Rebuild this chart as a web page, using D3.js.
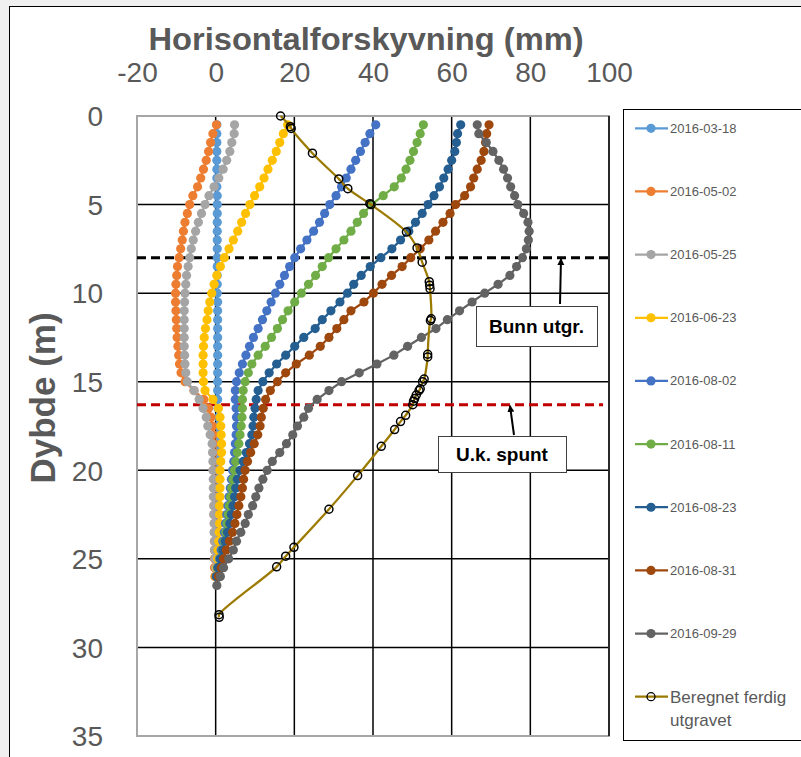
<!DOCTYPE html>
<html>
<head>
<meta charset="utf-8">
<script src="https://cdn.jsdelivr.net/npm/d3@7"></script>
<style>
  html, body { margin: 0; padding: 0; background: #f0f0f0; }
  svg { display: block; font-family: "Liberation Sans", Arial, sans-serif; }
</style>
</head>
<body>
<svg id="chart" width="801" height="757"></svg>
<script>
// dybde (m) for hvert målepunkt
const depths = [0.5, 1, 1.5, 2, 2.5, 3, 3.5, 4, 4.5, 5, 5.5, 6, 6.5, 7, 7.5, 8,
  8.5, 9, 9.5, 10, 10.5, 11, 11.5, 12, 12.5, 13, 13.5, 14, 14.5, 15, 15.5, 16,
  16.5, 17, 17.5, 18, 18.5, 19, 19.5, 20, 20.5, 21, 21.5, 22, 22.5, 23, 23.5, 24,
  24.5, 25, 25.5, 26, 26.5];

const seriesNames = ["2016-03-18", "2016-05-02", "2016-05-25", "2016-06-23", "2016-08-02",
  "2016-08-11", "2016-08-23", "2016-08-31", "2016-09-29"];
const seriesColors = ["#5B9BD5", "#ED7D31", "#A5A5A5", "#FFC000", "#4472C4",
  "#70AD47", "#255E91", "#9E480E", "#636363"];

// horisontalforskyvning (mm)
const s0318 = [0.3, 0.3, 0.3, 0.3, 0.3, 0.3, 0.3, 0.3, 0.4, 0.4, 0.4, 0.4, 0.4, 0.4, 0.4, 0.4,
  0.4, 0.4, 0.4, 0.4, 0.5, 0.5, 0.5, 0.5, 0.5, 0.5, 0.5, 0.5, 0.5, 0.5, 0.5, 0.5,
  0.6, 0.7, 0.7, 0.8, 0.8, 0.8, 0.8, 0.8, 0.8, 0.7, 0.7, 0.7, 0.6, 0.6, 0.5, 0.5,
  0.4, 0.3, 0.2, 0.1];
const s0502 = [0.2, -0.7, -1.3, -1.8, -2.4, -3.1, -3.8, -4.6, -5.8, -6.6, -7.2, -7.8, -8.2, -8.5, -8.9, -9.3,
  -9.7, -9.9, -10.1, -10.2, -10.2, -10.1, -10.0, -9.9, -9.8, -9.6, -9.4, -9.2, -8.8, -7.8, -5.5, -3.0,
  -1.8, -1.2, -0.8, -0.6, -0.5, -0.5, -0.5, -0.5, -0.4, -0.4, -0.4, -0.4, -0.4, -0.3, -0.3, -0.3,
  -0.3, -0.3, -0.3, -0.2];
const s0525 = [4.8, 4.7, 4.1, 3.6, 2.8, 1.9, 0.8, -0.4, -1.7, -2.7, -3.6, -4.4, -5.1, -5.7, -6.2, -6.6,
  -7.0, -7.4, -7.6, -7.8, -7.9, -8.0, -8.0, -8.0, -8.0, -8.0, -7.9, -7.8, -7.6, -7.2, -5.5, -4.2,
  -3.2, -2.4, -2.0, -1.4, -0.9, -0.8, -0.7, -0.7, -0.6, -0.6, -0.6, -0.5, -0.5, -0.4, -0.4, -0.3,
  -0.3, -0.2, 0.0];
const s0623 = [18.3, 17.2, 16.3, 15.4, 14.4, 13.3, 12.3, 11.2, 9.9, 8.7, 7.6, 6.6, 5.6, 4.5, 3.4, 2.2,
  1.2, 0.3, -0.4, -1.0, -1.5, -1.9, -2.2, -2.6, -2.9, -3.1, -3.2, -3.2, -3.2, -3.1, -2.7, -0.7,
  0.7, 1.1, 1.3, 1.4, 1.5, 1.5, 1.3, 1.1, 1.1, 1.1, 1.1, 1.0, 1.0, 1.0, 0.9, 0.8,
  0.6, 0.5, 0.3, 0.1];
const s0802 = [40.7, 39.2, 38.0, 36.8, 35.6, 34.4, 33.2, 32.0, 30.6, 29.0, 27.7, 26.4, 24.9, 23.2, 21.6, 20.1,
  18.8, 17.5, 16.3, 15.2, 14.1, 13.0, 11.9, 10.8, 9.6, 8.6, 7.7, 6.8, 6.0, 5.3, 5.0, 5.0,
  5.2, 5.3, 5.3, 5.2, 5.0, 4.8, 4.6, 4.3, 4.0, 3.7, 3.4, 3.1, 2.8, 2.5, 2.2, 1.8,
  1.4, 1.0, 0.5, 0.2];
const s0811 = [52.8, 52.0, 51.2, 50.3, 49.4, 48.4, 47.2, 45.4, 42.6, 39.6, 37.6, 36.0, 34.4, 32.6, 30.6, 28.7,
  27.1, 25.4, 23.6, 21.8, 20.1, 18.4, 17.0, 15.7, 14.2, 12.6, 10.8, 9.2, 8.3, 7.5, 7.0, 6.8,
  6.8, 6.7, 6.5, 6.2, 5.9, 5.5, 5.1, 4.8, 4.4, 4.1, 3.8, 3.5, 3.2, 2.9, 2.6, 2.2,
  1.7, 1.2, 0.6, 0.2];
const s0823 = [62.3, 61.5, 61.2, 60.8, 60.0, 59.1, 58.0, 56.9, 55.5, 54.0, 52.5, 50.8, 49.1, 47.0, 44.8, 42.0,
  39.3, 37.0, 35.1, 33.5, 31.6, 29.3, 27.1, 25.3, 22.4, 20.1, 17.8, 15.5, 13.6, 12.0, 10.8, 10.3,
  10.0, 9.7, 9.5, 9.2, 8.6, 7.8, 7.0, 6.2, 5.5, 5.1, 4.8, 4.4, 4.0, 3.6, 3.0, 2.4,
  1.8, 1.2, 0.6, 0.2];
const s0831 = [69.5, 68.9, 68.6, 68.2, 67.5, 66.5, 65.6, 64.8, 63.3, 61.0, 59.6, 57.8, 55.9, 54.2, 52.0, 49.6,
  47.4, 44.7, 42.3, 40.1, 37.7, 34.4, 32.6, 30.8, 28.8, 26.6, 23.8, 20.5, 17.8, 15.7, 13.9, 12.7,
  12.1, 11.6, 11.3, 10.7, 9.8, 8.9, 8.1, 7.5, 7.1, 6.8, 6.4, 5.9, 5.4, 4.9, 4.3, 3.5,
  2.7, 2.0, 1.4, 0.7];
const s0929 = [66.5, 66.9, 68.8, 70.5, 72.0, 73.2, 74.2, 75.0, 76.0, 76.8, 78.3, 79.4, 79.7, 79.5, 79.0, 78.0,
  76.5, 74.8, 71.8, 68.4, 65.2, 62.0, 58.9, 56.0, 52.3, 48.8, 45.3, 41.0, 36.5, 32.0, 28.8, 25.8,
  23.6, 22.4, 20.8, 19.6, 18.0, 16.3, 14.4, 13.1, 12.0, 11.0, 10.2, 9.4, 8.3, 7.5, 6.4, 5.3,
  4.5, 3.3, 2.0, 1.2, 0.3];
const seriesValues = [s0318, s0502, s0525, s0623, s0802, s0811, s0823, s0831, s0929];

// beregnet ferdig utgravet
const berDepth = [0, 0.6, 0.7, 2.1, 3.55, 4.1, 4.95, 5.0, 6.55, 7.45, 8.25, 9.35, 9.55, 9.75,
  11.45, 11.55, 13.45, 13.6, 14.85, 15.0, 15.4, 15.5, 15.75, 15.95, 16.1, 16.3, 16.9, 17.25,
  17.7, 18.65, 20.3, 22.2, 24.35, 24.85, 25.45, 28.15, 28.3];
const berMm = [16.5, 19.0, 19.2, 24.6, 31.3, 33.6, 39.2, 39.5, 48.5, 51.2, 52.5, 54.3, 54.4, 54.5,
  54.8, 54.6, 53.9, 53.9, 53.0, 52.6, 52.0, 51.7, 51.0, 50.6, 50.3, 50.1, 48.3, 47.0,
  45.5, 42.1, 36.1, 28.8, 19.9, 17.8, 15.5, 0.85, 0.9];

// referanselinjer (dybde i m)
const levelNames = ["Bunn utgr.", "U.k. spunt"];
const levelDepths = [8, 16.3];
const levelColors = ["#000000", "#C00000"];

const xTicks = [-20, 0, 20, 40, 60, 80, 100];
const yTicks = [0, 5, 10, 15, 20, 25, 30, 35];

const svg = d3.select("#chart");
const x = d3.scaleLinear().domain([-20, 100]).range([137, 609]);
const y = d3.scaleLinear().domain([0, 35]).range([116, 736]);
const grey = "#595959";

// hvit bakgrunn med ramme
svg.append("rect").attr("x", 9.5).attr("y", 6.5).attr("width", 820).attr("height", 780)
  .attr("fill", "#fff").attr("stroke", "#000").attr("stroke-width", 1);

svg.append("defs").append("marker")
  .attr("id", "arrow").attr("viewBox", "0 0 10 10")
  .attr("refX", 9).attr("refY", 5)
  .attr("markerWidth", 7).attr("markerHeight", 8)
  .attr("markerUnits", "userSpaceOnUse")
  .attr("orient", "auto")
  .append("path").attr("d", "M0,0 L10,5 L0,10 z").attr("fill", "#000");

// rutenett
const grid = svg.append("g");
grid.selectAll(".vx").data(xTicks.slice(1, -1)).join("line")
  .attr("x1", d => x(d)).attr("x2", d => x(d))
  .attr("y1", y(0)).attr("y2", y(35))
  .attr("stroke", "#000").attr("stroke-width", 1.5);
grid.selectAll(".hy").data(yTicks.slice(1, -1)).join("line")
  .attr("x1", x(-20)).attr("x2", x(100))
  .attr("y1", d => y(d)).attr("y2", d => y(d))
  .attr("stroke", "#000").attr("stroke-width", 1.5);
// ramme rundt plottet
grid.append("rect").attr("x", x(-20)).attr("y", y(0))
  .attr("width", x(100) - x(-20)).attr("height", y(35) - y(0))
  .attr("fill", "none").attr("stroke", "#a6a6a6").attr("stroke-width", 2);
grid.append("line").attr("x1", x(100)).attr("x2", x(100)).attr("y1", y(0)).attr("y2", y(35))
  .attr("stroke", "#000").attr("stroke-width", 1.5);

// akser
const xAxis = svg.append("g").attr("transform", "translate(0,82)")
  .call(d3.axisTop(x).tickValues(xTicks).tickSize(0).tickPadding(0).tickFormat(d => String(d)));
xAxis.select(".domain").remove();
xAxis.selectAll("text").attr("font-size", 28).attr("fill", grey).attr("font-family", null);

const yAxis = svg.append("g").attr("transform", "translate(103,0)")
  .call(d3.axisLeft(y).tickValues(yTicks).tickSize(0).tickPadding(0).tickFormat(d => String(d)));
yAxis.select(".domain").remove();
yAxis.selectAll("text").attr("font-size", 28).attr("fill", grey).attr("font-family", null)
  .attr("dy", "0.35em");

svg.append("text").attr("x", 366).attr("y", 50).attr("text-anchor", "middle")
  .attr("font-size", 32).attr("font-weight", "bold").attr("fill", grey)
  .attr("textLength", 435).attr("lengthAdjust", "spacingAndGlyphs")
  .text("Horisontalforskyvning (mm)");
svg.append("text").attr("transform", "translate(55,398) rotate(-90)").attr("text-anchor", "middle")
  .attr("font-size", 35).attr("font-weight", "bold").attr("fill", grey)
  .text("Dybde (m)");

// referanselinjer
svg.selectAll(".level").data(levelDepths).join("line")
  .attr("x1", x(-20)).attr("x2", (d, i) => i === 0 ? x(100) : x(98.5))
  .attr("y1", d => y(d)).attr("y2", d => y(d))
  .attr("stroke", (d, i) => levelColors[i]).attr("stroke-width", 3)
  .attr("stroke-dasharray", "9,5");

// måleserier
const line = d3.line().x(d => x(d[0])).y(d => y(d[1]));
seriesValues.forEach((vals, i) => {
  const pts = vals.map((v, j) => [v, depths[j]]);
  const g = svg.append("g");
  g.append("path").attr("d", line(pts)).attr("fill", "none")
    .attr("stroke", seriesColors[i]).attr("stroke-width", 2.25);
  g.selectAll("circle").data(pts).join("circle")
    .attr("cx", d => x(d[0])).attr("cy", d => y(d[1])).attr("r", 4.6)
    .attr("fill", seriesColors[i]);
});

// beregnet
const berPts = berMm.map((v, j) => [v, berDepth[j]]);
const berColor = "#9C7A00";
svg.append("path").attr("d", line.curve(d3.curveCatmullRom)(berPts))
  .attr("fill", "none").attr("stroke", berColor).attr("stroke-width", 2.25);
svg.append("g").selectAll("circle").data(berPts).join("circle")
  .attr("cx", d => x(d[0])).attr("cy", d => y(d[1])).attr("r", 4)
  .attr("fill", "none").attr("stroke", "#000").attr("stroke-width", 1.5);

// merknader
const notes = [
  { box: [476, 306, 121, 40], arrow: [560, 304, 561, y(levelDepths[0]) + 1] },
  { box: [438, 436, 128, 36], arrow: [514, 435, 510, y(levelDepths[1]) + 1] }
];
notes.forEach((n, i) => {
  svg.append("line").attr("x1", n.arrow[0]).attr("y1", n.arrow[1])
    .attr("x2", n.arrow[2]).attr("y2", n.arrow[3])
    .attr("stroke", "#000").attr("stroke-width", 2).attr("marker-end", "url(#arrow)");
  svg.append("rect").attr("x", n.box[0] + 0.5).attr("y", n.box[1] + 0.5)
    .attr("width", n.box[2]).attr("height", n.box[3])
    .attr("fill", "#fff").attr("stroke", "#404040").attr("stroke-width", 1);
  svg.append("text").attr("x", n.box[0] + n.box[2] / 2).attr("y", n.box[1] + n.box[3] / 2 + 7)
    .attr("text-anchor", "middle").attr("font-size", 19).attr("font-weight", "bold")
    .attr("fill", "#000").text(levelNames[i]);
});

// forklaring
const legend = svg.append("g");
legend.append("rect").attr("x", 623.5).attr("y", 109.5).attr("width", 200).attr("height", 631)
  .attr("fill", "#fff").attr("stroke", "#000").attr("stroke-width", 1);
const legY = d3.scaleLinear().domain([0, 9]).range([128.3, 696.7]);
seriesNames.forEach((name, i) => {
  const yy = legY(i);
  legend.append("line").attr("x1", 635).attr("x2", 668).attr("y1", yy).attr("y2", yy)
    .attr("stroke", seriesColors[i]).attr("stroke-width", 2.25);
  legend.append("circle").attr("cx", 651).attr("cy", yy).attr("r", 4.6).attr("fill", seriesColors[i]);
  legend.append("text").attr("x", 670).attr("y", yy + 4.5).attr("font-size", 13)
    .attr("fill", grey).text(name);
});
const by = legY(9);
legend.append("line").attr("x1", 635).attr("x2", 668).attr("y1", by).attr("y2", by)
  .attr("stroke", berColor).attr("stroke-width", 2.25);
legend.append("circle").attr("cx", 651).attr("cy", by).attr("r", 4)
  .attr("fill", "none").attr("stroke", "#000").attr("stroke-width", 1.3);
const bt = legend.append("text").attr("font-size", 17).attr("fill", grey);
bt.append("tspan").attr("x", 670).attr("y", by + 6).text("Beregnet ferdig");
bt.append("tspan").attr("x", 670).attr("y", by + 29).text("utgravet");
</script>
</body>
</html>
